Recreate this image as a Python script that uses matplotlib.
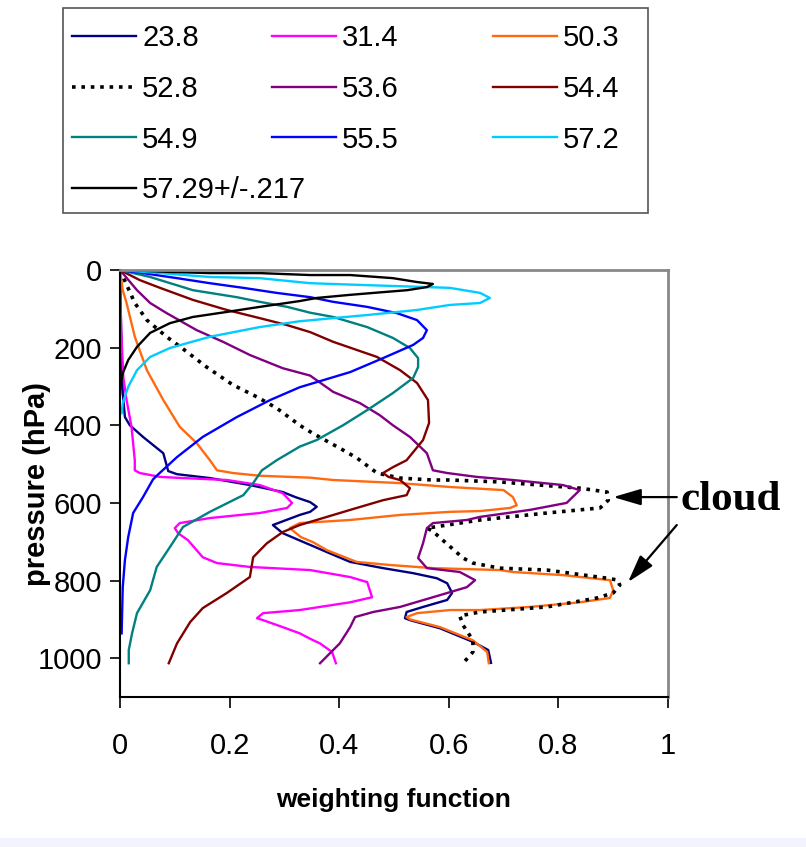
import numpy as np
import matplotlib
matplotlib.use('agg')
import matplotlib.pyplot as plt
from matplotlib.patches import Rectangle

plt.rcParams['font.family'] = ['Liberation Sans Narrow', 'Liberation Sans', 'DejaVu Sans']

# weighting function profiles (x = weight, p = pressure hPa)
x_238 = [0, 0.002, 0.005, 0.009, 0.018, 0.042, 0.079, 0.088, 0.104, 0.164, 0.237, 0.297, 0.32, 0.347,
         0.359, 0.347, 0.328, 0.279, 0.297, 0.33, 0.35, 0.378, 0.42, 0.48, 0.535, 0.578, 0.597, 0.606,
         0.597, 0.553, 0.523, 0.52, 0.529, 0.584, 0.644, 0.672, 0.677]
p_238 = [0, 150, 317, 379, 400, 430, 472, 518, 526, 536, 554, 572, 585, 598,
         610, 623, 631, 657, 678, 698, 710, 727, 752, 768, 781, 794, 807, 832,
         850, 868, 881, 897, 902, 923, 958, 979, 1012]

x_314 = [0, 0.002, 0.006, 0.012, 0.021, 0.027, 0.027, 0.036, 0.073, 0.115, 0.195, 0.255, 0.297, 0.314,
         0.305, 0.255, 0.164, 0.109, 0.1, 0.106, 0.124, 0.151, 0.177, 0.237, 0.347, 0.42, 0.451, 0.46,
         0.42, 0.328, 0.261, 0.25, 0.261, 0.297, 0.328, 0.347, 0.365, 0.387, 0.394]
p_314 = [0, 150, 276, 335, 404, 490, 516, 523, 533, 536, 541, 554, 575, 600,
         613, 626, 639, 652, 665, 678, 696, 740, 755, 765, 773, 791, 804, 843,
         856, 876, 884, 897, 902, 920, 936, 950, 962, 984, 1013]

x_503 = [0, 0.005, 0.012, 0.027, 0.049, 0.079, 0.109, 0.14, 0.164, 0.177, 0.206, 0.255, 0.347, 0.389,
         0.511, 0.602, 0.7, 0.717, 0.724, 0.712, 0.657, 0.602, 0.511, 0.42, 0.328, 0.31, 0.33, 0.352,
         0.378, 0.432, 0.493, 0.571, 0.693, 0.717, 0.808, 0.894, 0.9, 0.894, 0.839, 0.748, 0.657, 0.602,
         0.542, 0.523, 0.529, 0.584, 0.644, 0.67, 0.673]
p_503 = [0, 52, 85, 172, 258, 335, 404, 446, 490, 516, 523, 530, 535, 541,
         549, 559, 567, 585, 606, 613, 621, 623, 631, 644, 652, 665, 688, 701,
         722, 752, 760, 768, 773, 778, 786, 799, 825, 845, 856, 868, 876, 876,
         884, 894, 900, 920, 954, 984, 1013]

x_528 = [0, 0.027, 0.049, 0.085, 0.113, 0.158, 0.206, 0.25, 0.286, 0.328, 0.352, 0.401, 0.432, 0.469,
         0.511, 0.571, 0.602, 0.693, 0.839, 0.889, 0.891, 0.876, 0.779, 0.657, 0.62, 0.56, 0.57, 0.589,
         0.626, 0.644, 0.693, 0.779, 0.889, 0.909, 0.912, 0.9, 0.87, 0.779, 0.657, 0.62, 0.626, 0.644,
         0.644, 0.626]
p_528 = [0, 85, 129, 172, 201, 250, 296, 327, 356, 400, 421, 459, 484, 523,
         536, 541, 541, 546, 562, 572, 593, 613, 626, 644, 652, 665, 672, 696,
         742, 755, 768, 773, 794, 799, 812, 832, 845, 868, 881, 891, 915, 954,
         984, 1013]

x_536 = [0, 0.031, 0.055, 0.085, 0.14, 0.188, 0.237, 0.297, 0.347, 0.389, 0.438, 0.474, 0.498, 0.529,
         0.56, 0.571, 0.597, 0.651, 0.717, 0.808, 0.839, 0.815, 0.748, 0.657, 0.633, 0.571, 0.56, 0.553,
         0.544, 0.56, 0.62, 0.648, 0.633, 0.571, 0.511, 0.462, 0.429, 0.42, 0.401, 0.365]
p_536 = [0, 52, 85, 111, 155, 185, 219, 253, 272, 314, 343, 374, 400, 430,
         472, 516, 523, 533, 541, 554, 567, 600, 618, 636, 644, 652, 665, 704,
         742, 768, 778, 799, 817, 843, 868, 881, 894, 920, 962, 1013]

x_544 = [0, 0.036, 0.073, 0.133, 0.195, 0.255, 0.305, 0.347, 0.389, 0.469, 0.511, 0.542, 0.562, 0.564,
         0.553, 0.523, 0.498, 0.48, 0.49, 0.511, 0.529, 0.523, 0.48, 0.42, 0.328, 0.297, 0.268, 0.243,
         0.237, 0.195, 0.151, 0.128, 0.104, 0.089]
p_544 = [0, 26, 46, 77, 103, 124, 142, 160, 185, 224, 258, 291, 335, 394,
         438, 490, 508, 523, 533, 541, 562, 580, 593, 618, 657, 675, 704, 740,
         791, 832, 871, 907, 962, 1013]

x_549 = [0, 0.055, 0.133, 0.213, 0.255, 0.305, 0.347, 0.389, 0.451, 0.498, 0.529, 0.544, 0.544, 0.535,
         0.498, 0.451, 0.407, 0.359, 0.328, 0.286, 0.259, 0.243, 0.225, 0.164, 0.115, 0.091, 0.067, 0.055,
         0.031, 0.022, 0.016, 0.016]
p_549 = [0, 18, 52, 70, 82, 95, 110, 121, 147, 175, 201, 227, 250, 278,
         317, 361, 400, 438, 455, 490, 516, 549, 580, 623, 662, 714, 765, 825,
         884, 936, 979, 1013]

x_555 = [0, 0.042, 0.104, 0.164, 0.225, 0.286, 0.347, 0.389, 0.451, 0.505, 0.542, 0.56, 0.553, 0.535,
         0.48, 0.42, 0.328, 0.274, 0.213, 0.151, 0.104, 0.067, 0.06, 0.042, 0.024, 0.015, 0.009, 0.005,
         0.003]
p_555 = [0, 8, 21, 34, 46, 59, 70, 82, 95, 111, 129, 155, 175, 193,
         227, 263, 302, 335, 379, 430, 482, 530, 540, 585, 626, 688, 747, 817,
         936]

x_572 = [0, 0.073, 0.164, 0.255, 0.347, 0.451, 0.56, 0.602, 0.657, 0.675, 0.657, 0.602, 0.542, 0.451,
         0.389, 0.328, 0.255, 0.164, 0.091, 0.055, 0.031, 0.015, 0.005, 0.003]
p_572 = [0, 8, 18, 21, 34, 39, 44, 46, 59, 72, 85, 90, 103, 116,
         124, 132, 147, 172, 201, 224, 258, 301, 343, 369]

x_5729 = [0, 0.04, 0.091, 0.164, 0.255, 0.347, 0.42, 0.498, 0.542, 0.571, 0.56, 0.524, 0.48, 0.42,
          0.359, 0.328, 0.255, 0.195, 0.133, 0.091, 0.055, 0.031, 0.015, 0.005, 0.002, 0.0]
p_5729 = [0, 2, 5, 8, 8, 13, 13, 21, 31, 36, 44, 52, 57, 64,
          72, 80, 95, 108, 121, 137, 162, 198, 232, 266, 291, 320]

labels = ['23.8', '31.4', '50.3', '52.8', '53.6', '54.4', '54.9', '55.5', '57.2', '57.29+/-.217']
xs = [x_238, x_314, x_503, x_528, x_536, x_544, x_549, x_555, x_572, x_5729]
ps = [p_238, p_314, p_503, p_528, p_536, p_544, p_549, p_555, p_572, p_5729]
colors = ['#000080', '#FF00FF', '#FF6A10', '#000000', '#800080', '#800000',
          '#008080', '#0000FF', '#00CCFF', '#000000']

W, H = 806, 847
fig = plt.figure(figsize=(W / 100, H / 100), dpi=100)
ax = fig.add_axes([120 / W, 1 - 697 / H, 548 / W, 427 / H])

handles = {}
for lab, x, p, c in zip(labels, xs, ps, colors):
    if lab == '52.8':
        ln, = ax.plot(x, p, color=c, lw=2.6, linestyle=(0, (1, 1.6)))
    else:
        ln, = ax.plot(x, p, color=c, lw=1.7)
    handles[lab] = ln

ax.set_xlim(0, 1)
ax.set_ylim(1100, 0)
ax.set_xticks([0, 0.2, 0.4, 0.6, 0.8, 1])
ax.set_xticklabels(['0', '0.2', '0.4', '0.6', '0.8', '1'])
ax.set_yticks([0, 200, 400, 600, 800, 1000])
ax.tick_params(axis='both', direction='out', labelsize=21, width=1.2)
ax.tick_params(axis='y', length=7, pad=6)
ax.tick_params(axis='x', length=8, pad=17)
for s in ['left', 'bottom']:
    ax.spines[s].set_color('black')
    ax.spines[s].set_linewidth(1.5)
for s in ['top', 'right']:
    ax.spines[s].set_color('#888888')
    ax.spines[s].set_linewidth(2)

ax.set_xlabel('weighting function', fontsize=19, fontweight='bold')
ax.xaxis.set_label_coords(0.5, (697 - 800) / 427, transform=ax.transAxes)
ax.xaxis.label.set_va('center')
ax.set_ylabel('pressure (hPa)', fontsize=21, fontweight='bold',
              family=['Liberation Sans', 'DejaVu Sans'])
ax.yaxis.set_label_coords((37 - 120) / 548, 0.5, transform=ax.transAxes)
ax.yaxis.label.set_va('center')

# cloud annotation
ax.annotate('', xy=(0.9, 585), xytext=(1.016, 585), annotation_clip=False,
            arrowprops=dict(arrowstyle='-|>,head_length=1.7,head_width=0.5',
                            color='black', lw=1.6, shrinkA=0, shrinkB=0))
ax.annotate('', xy=(0.927, 804), xytext=(1.016, 657), annotation_clip=False,
            arrowprops=dict(arrowstyle='-|>,head_length=1.7,head_width=0.5',
                            color='black', lw=1.6, shrinkA=0, shrinkB=0))
ax.text(1.022, 619, 'cloud', fontsize=31, fontweight='bold', va='baseline', ha='left',
        family=['Liberation Serif', 'DejaVu Serif'], clip_on=False)

# legend: three columns in one box
cols = [['23.8', '52.8', '54.9', '57.29+/-.217'],
        ['31.4', '53.6', '55.5'],
        ['50.3', '54.4', '57.2']]
col_x = [72, 272, 493]
for cx, col in zip(col_x, cols):
    fig.legend([handles[l] for l in col], col, loc='upper left',
               bbox_to_anchor=(cx / W, 1 - 24 / H), bbox_transform=fig.transFigure,
               frameon=False, borderpad=0, borderaxespad=0, handlelength=2.2,
               handletextpad=0.2, labelspacing=0.78, fontsize=21)
fig.add_artist(Rectangle((63 / W, 1 - 213 / H), (648 - 63) / W, 205 / H,
                         transform=fig.transFigure, fill=False, ec='#555555', lw=1.2))
fig.add_artist(Rectangle((0, 0), 1, 9 / H, transform=fig.transFigure,
                         fc='#F3F3FD', ec='none'))

fig.savefig('out.png', dpi=100)
